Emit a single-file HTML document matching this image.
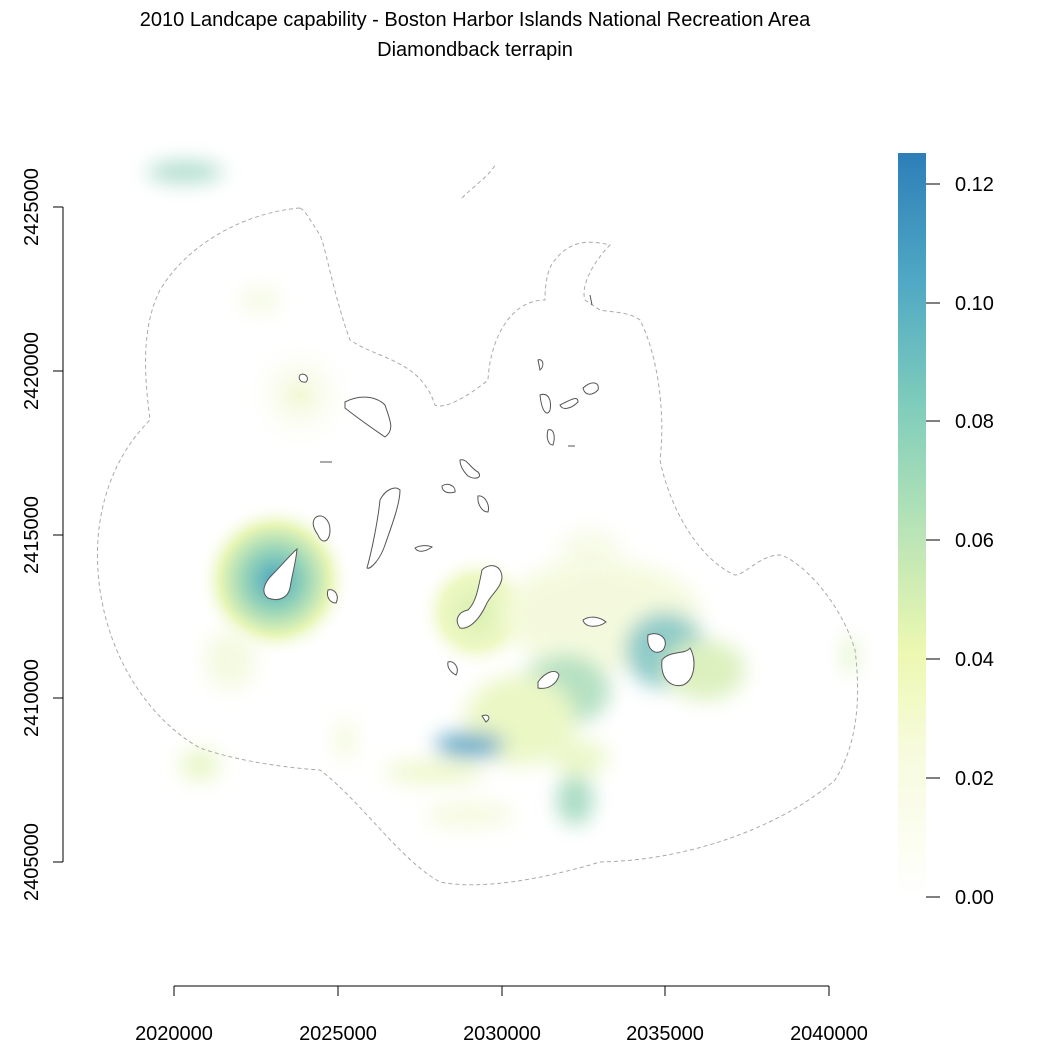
<!DOCTYPE html>
<html><head><meta charset="utf-8"><style>
body{margin:0;background:#fff;width:1050px;height:1050px;overflow:hidden}
svg{display:block}
text{font-family:"Liberation Sans",sans-serif;fill:#000}
</style></head><body>
<svg width="1050" height="1050" viewBox="0 0 1050 1050" xmlns="http://www.w3.org/2000/svg">
<defs>
<filter id="b" x="-50%" y="-50%" width="200%" height="200%"><feGaussianBlur stdDeviation="10"/></filter>
<linearGradient id="cb" x1="0" y1="1" x2="0" y2="0">
<stop offset="0" stop-color="#ffffff"/>
<stop offset="0.2" stop-color="#f7fbdc"/>
<stop offset="0.33" stop-color="#edf8b1"/>
<stop offset="0.5" stop-color="#b6e3b6"/>
<stop offset="0.66" stop-color="#7fcdbb"/>
<stop offset="0.83" stop-color="#4fa8c4"/>
<stop offset="1" stop-color="#2c7fb8"/>
</linearGradient>
<radialGradient id="r1"><stop offset="0" stop-color="#4ca6c2"/><stop offset="0.35" stop-color="#8fd0b8"/><stop offset="0.7" stop-color="#e6f5b5"/><stop offset="1" stop-color="#fff" stop-opacity="0"/></radialGradient>
<radialGradient id="r2"><stop offset="0" stop-color="#d8efb0"/><stop offset="0.6" stop-color="#eef8c4"/><stop offset="1" stop-color="#fff" stop-opacity="0"/></radialGradient>
<radialGradient id="r3"><stop offset="0" stop-color="#f1f8d4"/><stop offset="1" stop-color="#fff" stop-opacity="0"/></radialGradient>
</defs>
<text x="475" y="26" font-size="20" text-anchor="middle">2010 Landcape capability - Boston Harbor Islands National Recreation Area</text>
<text x="475" y="56" font-size="20" text-anchor="middle">Diamondback terrapin</text>

<g>
<circle cx="275" cy="580" r="78" fill="url(#r1)"/>
<circle cx="477" cy="612" r="60" fill="url(#r2)"/>
<circle cx="300" cy="395" r="60" fill="url(#r3)"/>
<g filter="url(#b)" opacity="0.85">
<ellipse cx="600" cy="615" rx="100" ry="55" fill="#f3f9d8"/>
<ellipse cx="565" cy="690" rx="45" ry="35" fill="#a8dbb8"/>
<ellipse cx="665" cy="650" rx="40" ry="38" fill="#7cc2c0"/>
<ellipse cx="705" cy="670" rx="40" ry="30" fill="#d6eeb4"/>
<ellipse cx="520" cy="720" rx="55" ry="45" fill="#e8f6bc"/>
<ellipse cx="470" cy="745" rx="35" ry="13" fill="#4f9ec0"/>
<ellipse cx="435" cy="772" rx="50" ry="11" fill="#eaf6c0"/>
<ellipse cx="575" cy="800" rx="18" ry="25" fill="#9ad5b9"/>
<ellipse cx="580" cy="758" rx="28" ry="18" fill="#e8f6c0"/>
<ellipse cx="470" cy="815" rx="45" ry="12" fill="#f3f9d8"/>
<ellipse cx="200" cy="765" rx="20" ry="15" fill="#e4f4bb"/>
<ellipse cx="230" cy="660" rx="25" ry="30" fill="#f3f9dc"/>
<ellipse cx="185" cy="172" rx="38" ry="10" fill="#9ad4c0"/>
<ellipse cx="260" cy="300" rx="20" ry="12" fill="#f3f9dc"/>
<ellipse cx="590" cy="550" rx="30" ry="20" fill="#f5fae2"/>
<ellipse cx="850" cy="655" rx="6" ry="20" fill="#d6efb5"/>
<ellipse cx="345" cy="740" rx="8" ry="20" fill="#eef8cc"/>
</g>
</g>

<path d="M300,208 C250,212 190,240 160,290 C140,330 145,380 150,420 C110,460 90,520 100,590 C110,660 150,720 200,748 C240,762 290,768 320,770 C360,800 400,860 440,882 C480,890 540,880 600,862 C700,860 790,820 835,780 C860,740 860,690 855,650 C840,600 800,560 780,555 C760,555 745,575 735,575 C700,560 670,510 660,460 C665,420 660,360 640,320 C630,312 610,312 600,310 L585,300 C580,285 595,260 610,245 C590,240 570,240 555,260 C545,270 545,295 545,300 C510,300 490,340 488,380 C470,395 445,410 435,405 C420,360 380,360 350,340 C335,300 325,245 320,235 C310,220 305,210 300,208 Z" fill="none" stroke="#aaa" stroke-width="1" stroke-dasharray="4,3"/>
<path d="M462,198 C475,185 490,175 495,165" fill="none" stroke="#aaa" stroke-dasharray="4,3"/>

<g fill="#fff" stroke="#555" stroke-width="1">
<path d="M297,549 C290,555 282,565 272,575 C265,582 260,592 268,598 C278,602 288,598 290,588 C292,575 296,562 297,549 Z"/>
<path d="M482,570 C490,562 502,565 502,578 C500,590 490,595 486,605 C480,618 470,630 460,628 C454,620 458,612 468,610 C476,602 478,590 482,570 Z"/>
<path d="M648,635 C660,630 670,640 663,650 C656,656 646,650 648,635 Z"/>
<path d="M662,660 C670,650 685,655 690,648 C697,660 695,680 683,685 C672,688 660,680 662,660 Z"/>
<path d="M538,682 C545,672 556,668 559,675 C557,684 548,690 538,688 Z"/>
<path d="M583,620 C590,615 600,617 606,622 C598,628 585,628 583,620 Z"/>
<path d="M400,490 C400,505 390,530 385,545 C380,560 370,570 367,568 C372,550 378,520 380,500 C385,490 395,485 400,490 Z"/>
<path d="M315,518 C322,512 330,520 330,530 C330,542 322,545 318,535 C313,528 312,522 315,518 Z"/>
<path d="M345,402 C358,395 375,395 385,405 C390,420 395,430 385,437 C375,430 360,420 345,408 Z"/>
<path d="M460,460 C467,458 470,468 478,472 C483,478 475,480 468,476 C462,470 460,465 460,460 Z"/>
<path d="M478,496 C485,495 490,505 488,512 C482,512 477,504 478,496 Z"/>
<path d="M442,486 C448,482 456,486 455,492 C448,494 442,492 442,486 Z"/>
<path d="M540,395 C548,392 552,400 550,410 C548,416 542,414 540,395 Z"/>
<path d="M560,405 C570,400 578,395 578,402 C570,410 562,410 560,405 Z"/>
<path d="M583,388 C592,380 600,382 598,390 C592,396 585,396 583,388 Z"/>
<path d="M548,430 C553,428 556,435 553,445 C548,445 546,437 548,430 Z"/>
<path d="M538,360 C543,358 545,366 540,370 Z"/>
<path d="M300,375 C305,372 310,378 306,382 C300,383 298,378 300,375 Z"/>
<path d="M328,590 C334,588 340,595 336,603 C330,603 326,597 328,590 Z"/>
<path d="M448,662 C454,660 460,668 456,675 C450,672 447,667 448,662 Z"/>
<path d="M415,548 C420,545 428,545 432,547 C425,552 418,553 415,548 Z"/>
<path d="M482,716 C488,713 492,718 486,722 Z"/>
<path d="M320,462 L332,462"/>
<path d="M568,446 L575,446"/>
<path d="M590,295 L592,305"/>
</g>

<g stroke="#000" stroke-width="1" fill="none">
<path d="M174,986 H829"/>
<path d="M174,986 v10 M338,986 v10 M502,986 v10 M665,986 v10 M829,986 v10"/>
<path d="M63,207 V862"/>
<path d="M63,207 h-10 M63,371 h-10 M63,535 h-10 M63,698 h-10 M63,862 h-10"/>
</g>
<g font-size="20" text-anchor="middle">
<text x="174" y="1040">2020000</text><text x="338" y="1040">2025000</text><text x="502" y="1040">2030000</text><text x="665" y="1040">2035000</text><text x="829" y="1040">2040000</text>
<text transform="translate(38,207) rotate(-90)">2425000</text>
<text transform="translate(38,371) rotate(-90)">2420000</text>
<text transform="translate(38,535) rotate(-90)">2415000</text>
<text transform="translate(38,698) rotate(-90)">2410000</text>
<text transform="translate(38,862) rotate(-90)">2405000</text>
</g>

<rect x="898" y="153" width="28" height="745" fill="url(#cb)"/>
<g stroke="#000"><path d="M926,184h14M926,303h14M926,421h14M926,540h14M926,659h14M926,778h14M926,897h14"/></g>
<g font-size="20">
<text x="955" y="191">0.12</text><text x="955" y="310">0.10</text><text x="955" y="428">0.08</text><text x="955" y="547">0.06</text><text x="955" y="666">0.04</text><text x="955" y="785">0.02</text><text x="955" y="904">0.00</text>
</g>
</svg>
</body></html>
